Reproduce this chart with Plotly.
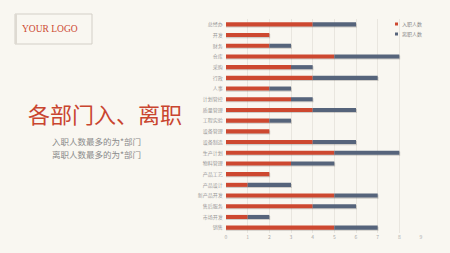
import plotly.graph_objects as go

departments = ["总经办", "开发", "财务", "仓库", "采购", "行政", "人事", "计划管控", "质量管理", "工程实验",
               "设备管理", "设备制造", "生产计划", "物料管理", "产品工艺", "产品设计", "新产品开发", "售后服务", "市场开发", "销售"]
joined = [4, 2, 2, 5, 3, 4, 2, 3, 4, 2, 2, 4, 5, 3, 2, 1, 5, 4, 1, 5]
left = [2, 0, 1, 3, 1, 3, 1, 1, 2, 1, 0, 2, 3, 2, 0, 2, 2, 2, 1, 2]
x_ticks = [0, 1, 2, 3, 4, 5, 6, 7, 8, 9]
series_names = ["入职人数", "离职人数"]

RED = "#cd4830"
BLUE = "#56647b"
BG = "#f9f7f1"
FONT = "Noto Sans CJK SC"

L, R, T, B = 226, 29, 19, 20
W, H = 450 - L - R, 253 - T - B
BW = 0.38

def px_x(p):
    return (p - L) / W

def px_y(p):
    return 1 - (p - T) / H

totals = [a + b for a, b in zip(joined, left)]

fig = go.Figure()
# soft shadow under bars
fig.add_trace(go.Bar(y=departments, x=[t + 0.04 for t in totals], orientation="h",
                     width=BW, offset=-BW / 2 + 0.1, hoverinfo="skip",
                     marker=dict(color="rgba(60,60,60,0.22)", line=dict(width=0))))
fig.add_trace(go.Bar(y=departments, x=joined, orientation="h", name=series_names[0],
                     width=BW, offset=-BW / 2,
                     marker=dict(color=RED, line=dict(width=0))))
fig.add_trace(go.Bar(y=departments, x=left, base=joined, orientation="h", name=series_names[1],
                     width=BW, offset=-BW / 2,
                     marker=dict(color=BLUE, line=dict(width=0))))

fig.update_layout(
    width=450, height=253,
    margin=dict(l=L, r=R, t=T, b=B),
    paper_bgcolor=BG, plot_bgcolor=BG,
    barmode="overlay",
    font=dict(family=FONT, color="#999999", size=5),
    showlegend=False,
    xaxis=dict(range=[0, 9], tickvals=x_ticks, showgrid=True, gridcolor="#e9e6df", gridwidth=1,
               zeroline=False, showline=False, tickfont=dict(size=5, color="#aaaaaa"), ticks="",
               automargin=False),
    yaxis=dict(autorange="reversed", showgrid=False, tickfont=dict(size=5, color="#999999"),
               ticks="", ticksuffix="  ", showline=False, automargin=False),
)

# manual legend
for i, (nm, col) in enumerate(zip(series_names, [RED, BLUE])):
    yy = 24 + i * 10
    fig.add_shape(type="rect", xref="paper", yref="paper",
                  x0=px_x(395), x1=px_x(398), y0=px_y(yy + 1.5), y1=px_y(yy - 1.5),
                  line=dict(width=0), fillcolor=col)
    fig.add_annotation(xref="paper", yref="paper", x=px_x(400), y=px_y(yy), text=nm,
                       showarrow=False, xanchor="left", yanchor="middle",
                       font=dict(family=FONT, size=5, color="#888888"))

# Logo box
fig.add_shape(type="rect", xref="paper", yref="paper",
              x0=px_x(15), x1=px_x(92), y0=px_y(44), y1=px_y(14),
              line=dict(color="#d3cfc7", width=1), fillcolor="rgba(0,0,0,0)")
fig.add_shape(type="line", xref="paper", yref="paper",
              x0=px_x(16), x1=px_x(16), y0=px_y(44), y1=px_y(14),
              line=dict(color="#dedad2", width=2))
fig.add_annotation(xref="paper", yref="paper", x=px_x(50), y=px_y(29), text="YOUR LOGO",
                   showarrow=False, xanchor="center", yanchor="middle",
                   font=dict(family="Liberation Serif", size=9.5, color=RED))

fig.add_annotation(xref="paper", yref="paper", x=px_x(105), y=px_y(113), text="各部门入、离职",
                   showarrow=False, xanchor="center", yanchor="middle",
                   font=dict(family=FONT, size=22, color="#c9452f"))
fig.add_annotation(xref="paper", yref="paper", x=px_x(50), y=px_y(141), text="入职人数最多的为*部门",
                   showarrow=False, xanchor="left", yanchor="middle",
                   font=dict(family=FONT, size=8.5, color="#8a8a8a"))
fig.add_annotation(xref="paper", yref="paper", x=px_x(50), y=px_y(154), text="离职人数最多的为*部门",
                   showarrow=False, xanchor="left", yanchor="middle",
                   font=dict(family=FONT, size=8.5, color="#8a8a8a"))

fig.write_html("out.html")
